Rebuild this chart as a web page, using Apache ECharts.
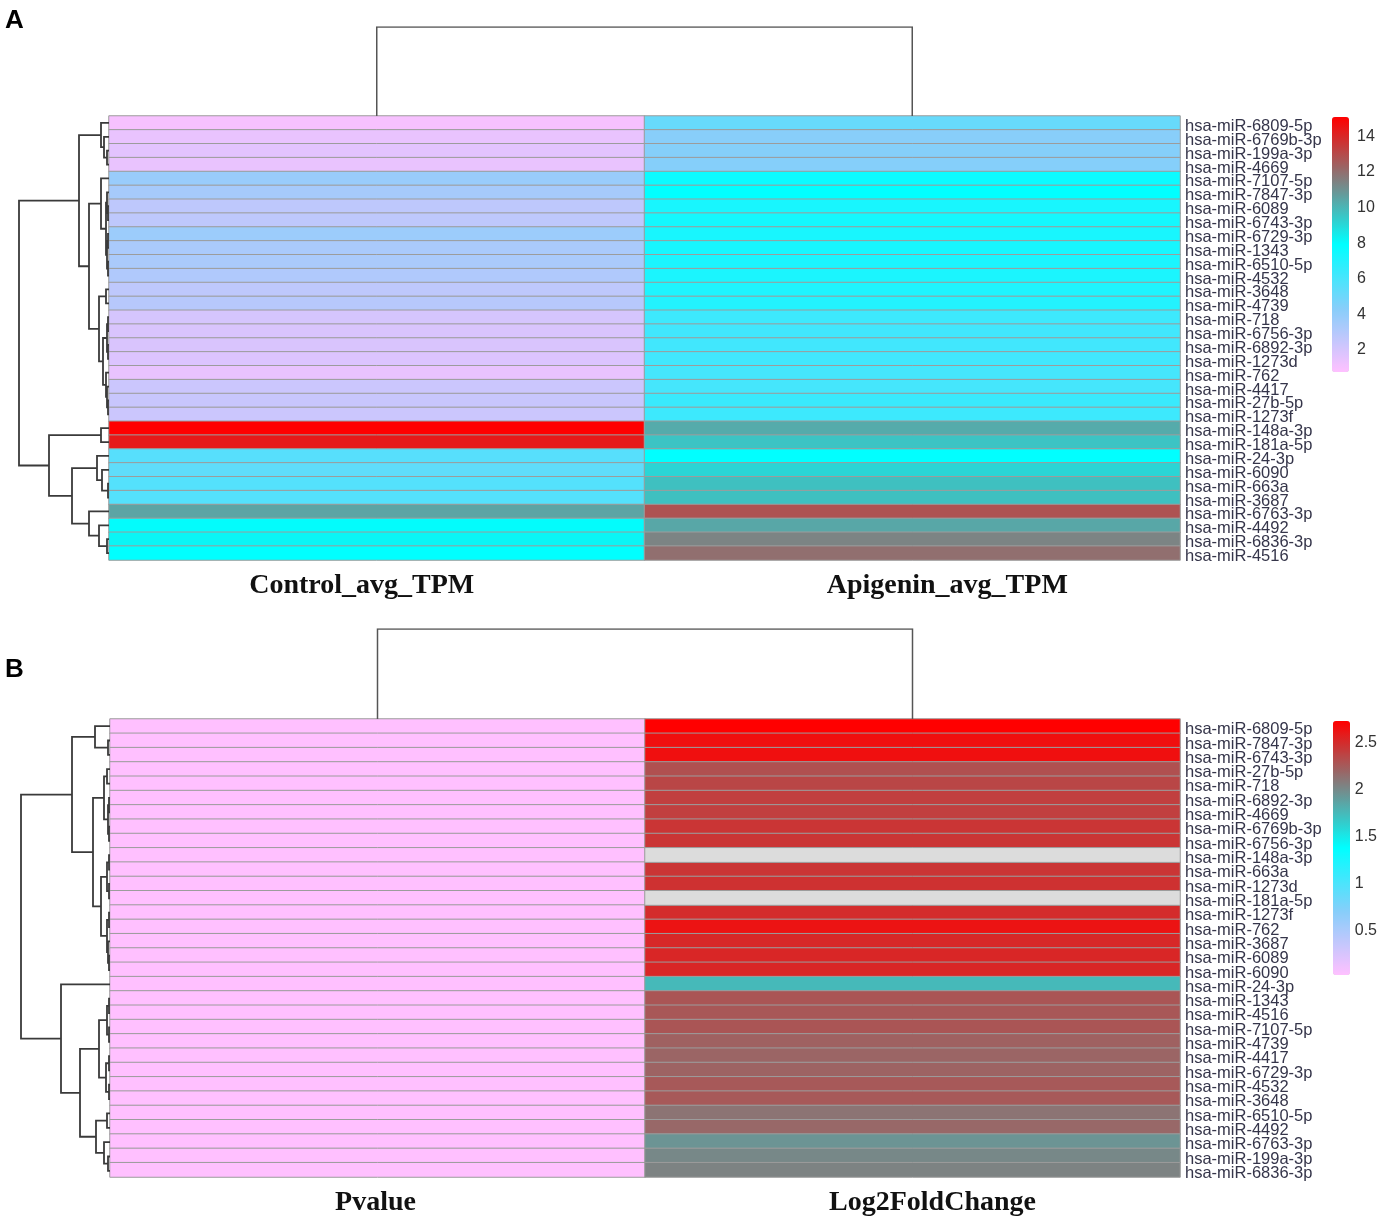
<!DOCTYPE html>
<html><head><meta charset="utf-8">
<script src="https://cdn.jsdelivr.net/npm/echarts@6/dist/echarts.min.js"></script>
<style>html,body{margin:0;padding:0;background:#fff}#c{width:1380px;height:1217px}</style>
</head><body><div id="c"></div>
<script>
// ---------- Panel A data ----------
const columnsA = ['Control_avg_TPM', 'Apigenin_avg_TPM'];
const rowLabelsA = ['hsa-miR-6809-5p','hsa-miR-6769b-3p','hsa-miR-199a-3p','hsa-miR-4669','hsa-miR-7107-5p','hsa-miR-7847-3p','hsa-miR-6089','hsa-miR-6743-3p','hsa-miR-6729-3p','hsa-miR-1343','hsa-miR-6510-5p','hsa-miR-4532','hsa-miR-3648','hsa-miR-4739','hsa-miR-718','hsa-miR-6756-3p','hsa-miR-6892-3p','hsa-miR-1273d','hsa-miR-762','hsa-miR-4417','hsa-miR-27b-5p','hsa-miR-1273f','hsa-miR-148a-3p','hsa-miR-181a-5p','hsa-miR-24-3p','hsa-miR-6090','hsa-miR-663a','hsa-miR-3687','hsa-miR-6763-3p','hsa-miR-4492','hsa-miR-6836-3p','hsa-miR-4516'];
const controlTPM = [1.0,1.4,1.6,1.4,3.8,3.4,2.7,2.7,3.7,3.3,3.3,3.1,2.7,2.9,2.0,1.9,1.9,1.8,1.4,2.3,2.4,2.3,15.1,14.4,5.6,5.4,5.7,5.7,10.5,8.0,8.2,7.9];
const apigeninTPM = [5.2,4.3,4.4,4.4,7.6,7.9,7.3,7.4,7.3,7.3,7.2,7.2,7.1,7.0,6.3,6.2,6.2,6.2,6.1,6.1,6.4,6.3,10.3,9.6,7.9,9.1,9.7,9.7,12.8,10.4,11.4,12.0];
const colorTicksA = [2,4,6,8,10,12,14];
const rangeA = [0.75, 15.1];
// row dendrogram: [left, right, mergeHeight]; leaves are row indices
const rowTreeA = [
  [[0,[1,[2,3,2],5],8],
   [[4,[[5,[6,7,1],2],[[8,9,1],[10,11,1],2],3],8],
    [[12,13,3],[[[14,15,1],[16,17,1],2],[18,[19,[20,21,1],2],3],6],10],20],30],
  [[22,23,8],[[24,[25,[26,27,1],7],12],[28,[29,[30,31,2],10],20],37],60],
  90];
const colTreeHeightA = 1;

// ---------- Panel B data ----------
const columnsB = ['Pvalue', 'Log2FoldChange'];
const rowLabelsB = ['hsa-miR-6809-5p','hsa-miR-7847-3p','hsa-miR-6743-3p','hsa-miR-27b-5p','hsa-miR-718','hsa-miR-6892-3p','hsa-miR-4669','hsa-miR-6769b-3p','hsa-miR-6756-3p','hsa-miR-148a-3p','hsa-miR-663a','hsa-miR-1273d','hsa-miR-181a-5p','hsa-miR-1273f','hsa-miR-762','hsa-miR-3687','hsa-miR-6089','hsa-miR-6090','hsa-miR-24-3p','hsa-miR-1343','hsa-miR-4516','hsa-miR-7107-5p','hsa-miR-4739','hsa-miR-4417','hsa-miR-6729-3p','hsa-miR-4532','hsa-miR-3648','hsa-miR-6510-5p','hsa-miR-4492','hsa-miR-6763-3p','hsa-miR-199a-3p','hsa-miR-6836-3p'];
const pValue = [0.03,0.03,0.03,0.03,0.03,0.03,0.03,0.03,0.03,0.03,0.03,0.03,0.03,0.03,0.03,0.03,0.03,0.03,0.03,0.03,0.03,0.03,0.03,0.03,0.03,0.03,0.03,0.03,0.03,0.03,0.03,0.03];
const log2FC = [2.73,2.65,2.65,2.31,2.36,2.40,2.40,2.45,2.45,null,2.45,2.47,null,2.50,2.63,2.52,2.53,2.53,1.75,2.28,2.27,2.28,2.22,2.20,2.21,2.26,2.26,2.12,2.18,1.95,2.01,2.04];
const colorTicksB = [0.5,1,1.5,2,2.5];
const rangeB = [0.03, 2.73];
const rowTreeB = [
  [[0,[1,2,2],15],
   [[[3,4,3],[[5,6,1],[7,8,1],2],6],
    [[[9,10,1],[11,12,1],3],[[13,14,1],[15,[16,17,1],2],3],9],17],38],
  [18,[[[[19,20,1],[21,22,1],3],[[23,24,1],[25,26,1],4],11],[[27,28,3],[29,[30,31,2],6],14],30],49],
  89];
const colTreeHeightB = 1;

// ---------- styling ----------
const palette = ['#FFC0FF','#87CEFA','#00FFFF','#808080','#FF0000'];
const naColor = '#DCDCDC';
const lineColor = '#3a3a3a';
const labelFont = 'Liberation Sans';

function treeSegments(node, segs) {
  if (typeof node === 'number') return {y: node, h: 0};
  const a = treeSegments(node[0], segs), b = treeSegments(node[1], segs);
  const h = node[2];
  segs.push({coords: [[a.h, a.y],[h, a.y],[h, b.y],[b.h, b.y]]});
  return {y: (a.y + b.y) / 2, h: h};
}

function panel(p) {
  const n = p.rows.length;
  const g0 = p.gi;
  const grids = [
    {left: p.left, top: p.top, width: p.width, height: p.height},
    {left: p.dendLeft, top: p.top, width: p.left - p.dendLeft, height: p.height},
    {left: p.left, top: p.colTop, width: p.width, height: p.top - p.colTop},
    {left: p.barLeft, top: p.barTop, width: 17, height: p.barHeight}
  ];
  const colStyle = {fontFamily: 'Liberation Serif', fontWeight: 'bold', fontSize: 28, color: '#111'};
  const xAxes = [
    {gridIndex: g0, type: 'category', data: p.cols, axisLine: {show: false}, axisTick: {show: false},
     axisLabel: {margin: 12, interval: 0, formatter: (v, i) => '{c' + i + '|' + v + '}',
       rich: {
         c0: Object.assign({padding: p.labPad[0]}, colStyle),
         c1: Object.assign({padding: p.labPad[1]}, colStyle)
       }}},
    {gridIndex: g0 + 1, type: 'value', inverse: true, min: 0, max: p.tree[2], show: false},
    {gridIndex: g0 + 2, type: 'value', min: -0.5, max: 1.5, show: false},
    {gridIndex: g0 + 3, type: 'value', show: false}
  ];
  const yAxes = [
    {gridIndex: g0, type: 'category', data: p.rows, inverse: true, position: 'right',
     axisLine: {show: false}, axisTick: {show: false},
     axisLabel: {margin: 5, interval: 0, hideOverlap: false,
       formatter: v => '{r|' + v + '}',
       rich: {r: {padding: [7, 0, 0, 0], fontFamily: labelFont, fontSize: 16.5, color: '#35354a'}}}},
    {gridIndex: g0 + 1, type: 'value', inverse: true, min: -0.5, max: n - 0.5, show: false},
    {gridIndex: g0 + 2, type: 'value', min: 0, max: p.colH, show: false},
    {gridIndex: g0 + 3, type: 'value', position: 'right', min: p.range[0], max: p.range[1],
     splitLine: {show: false}, axisLine: {show: false}, axisTick: {show: false},
     axisLabel: {customValues: p.ticks, margin: 8, fontFamily: labelFont, fontSize: 16, color: '#333'}}
  ];
  const main = [], na = [];
  p.vals.forEach((arr, c) => arr.forEach((v, r) => {
    if (v === null) na.push([c, r, 0]); else main.push([c, r, v]);
  }));
  const segs = [];
  treeSegments(p.tree, segs);
  const series = [
    {type: 'heatmap', xAxisIndex: g0, yAxisIndex: g0, data: main,
     itemStyle: {borderColor: '#9c9c9c', borderWidth: 1}, emphasis: {disabled: true}},
    {type: 'heatmap', xAxisIndex: g0, yAxisIndex: g0, data: na,
     itemStyle: {color: naColor, borderColor: '#9c9c9c', borderWidth: 1}, emphasis: {disabled: true}},
    {type: 'lines', coordinateSystem: 'cartesian2d', xAxisIndex: g0 + 1, yAxisIndex: g0 + 1, polyline: true,
     data: segs, lineStyle: {color: lineColor, width: 1.8, opacity: 1}, silent: true},
    {type: 'lines', coordinateSystem: 'cartesian2d', xAxisIndex: g0 + 2, yAxisIndex: g0 + 2, polyline: true,
     data: [{coords: [[0, 0],[0, p.colH],[1, p.colH],[1, 0]]}], lineStyle: {color: '#555', width: 1.5, opacity: 1}, silent: true}
  ];
  return {grids, xAxes, yAxes, series};
}

const A = panel({gi: 0, rows: rowLabelsA, cols: columnsA, vals: [controlTPM, apigeninTPM], tree: rowTreeA,
  colH: colTreeHeightA, left: 109, top: 116, width: 1071, height: 444, dendLeft: 19, colTop: 27,
  barLeft: 1332, barTop: 117, barHeight: 255, range: rangeA, ticks: colorTicksA,
  labPad: [[0, 30, 0, 0], [0, 0, 0, 70]]});
const B = panel({gi: 4, rows: rowLabelsB, cols: columnsB, vals: [pValue, log2FC], tree: rowTreeB,
  colH: colTreeHeightB, left: 110, top: 719, width: 1070, height: 459, dendLeft: 21, colTop: 629,
  barLeft: 1333, barTop: 721, barHeight: 254, range: rangeB, ticks: colorTicksB,
  labPad: [[0, 4, 0, 0], [0, 0, 0, 40]]});

const chart = echarts.init(document.getElementById('c'), null, {renderer: 'canvas'});
chart.setOption({
  backgroundColor: '#fff',
  animation: false,
  title: [
    {text: 'A', left: 0, top: 3, textStyle: {fontFamily: labelFont, fontWeight: 'bold', fontSize: 26, color: '#000'}},
    {text: 'B', left: 0, top: 652, textStyle: {fontFamily: labelFont, fontWeight: 'bold', fontSize: 26, color: '#000'}}
  ],
  grid: A.grids.concat(B.grids),
  xAxis: A.xAxes.concat(B.xAxes),
  yAxis: A.yAxes.concat(B.yAxes),
  visualMap: [
    {type: 'continuous', seriesIndex: 0, min: rangeA[0], max: rangeA[1], inRange: {color: palette},
     left: 1332, top: 117, itemWidth: 17, itemHeight: 255, calculable: false, padding: 0, showLabel: false, text: null},
    {type: 'continuous', seriesIndex: 4, min: rangeB[0], max: rangeB[1], inRange: {color: palette},
     left: 1333, top: 721, itemWidth: 17, itemHeight: 254, calculable: false, padding: 0, showLabel: false, text: null}
  ],
  series: A.series.concat(B.series)
});
</script></body></html>
